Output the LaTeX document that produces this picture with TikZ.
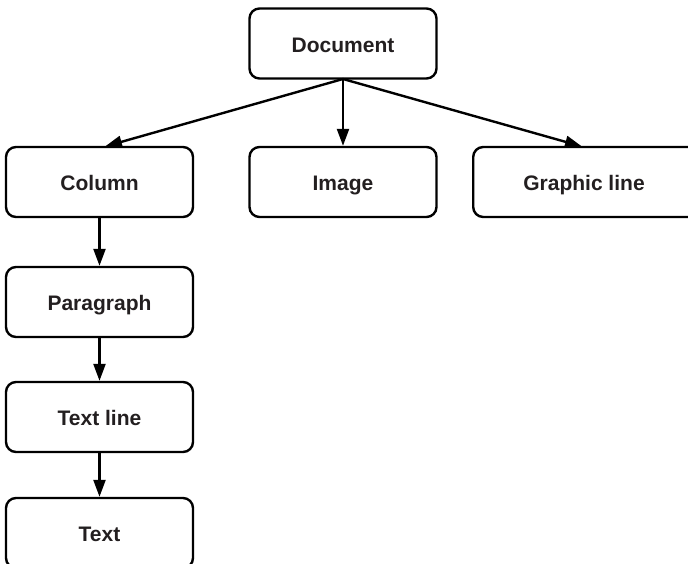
\documentclass[tikz,border=0pt]{standalone}
\usepackage{fontspec}
\setmainfont{Liberation Sans}
\usetikzlibrary{arrows.meta}
\definecolor{txt}{HTML}{231F20}
\begin{document}
\begin{tikzpicture}[x=1pt,y=-1pt,
  lbl/.style={font=\fontsize{21}{24}\selectfont\bfseries,text=txt,text height=17pt,text depth=0pt,inner sep=0pt},
  box/.style={lbl,draw=black,line width=2.4pt,rounded corners=10pt,fill=white,
    minimum width=187pt,minimum height=70pt},
  conn/.style={line width=2.4pt,-{Triangle[length=17pt,width=12pt]}}]
\useasboundingbox (0,0) rectangle (688,563);
\begin{scope}
\clip (0,0) rectangle (688,563);
\node[box] (doc) at (343,43.5) {Document};
\node[box] (col) at (99.5,182) {Column};
\node[box] (img) at (343,182) {Image};
\node[box,minimum width=230pt,anchor=west] (gl) at (472,182) {};
\node[lbl] (gltext) at (584,182) {Graphic line};
\node[box] (par) at (99.5,302) {Paragraph};
\node[box] (tl) at (99.5,417) {Text line};
\node[box] (tx) at (99.5,533) {Text};
\coordinate (docb) at (343,79);
\draw[conn] (docb) -- (105,146.5);
\draw[conn] (docb) -- (582,146.5);
\draw[conn] (doc.south) -- (img.north);
\draw[conn] (col.south) -- (par.north);
\draw[conn] (par.south) -- (tl.north);
\draw[conn] (tl.south) -- (tx.north);
\end{scope}
\end{tikzpicture}
\end{document}
